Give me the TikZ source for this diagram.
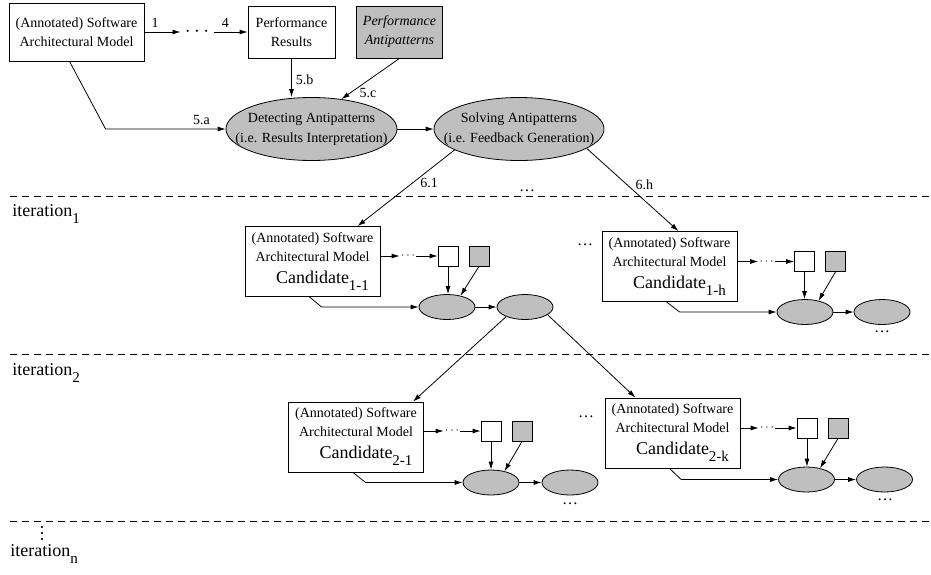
\documentclass[tikz,border=0pt]{standalone}
\usepackage{fontspec}
\setmainfont{Liberation Serif}
\usepackage{tikz}
\usetikzlibrary{shapes,arrows,arrows.meta,positioning}

\begin{document}
\begin{tikzpicture}[x=1pt, y=-1pt, >={Latex[length=8pt,width=5pt]}, line width=0.8pt,
  font=\fontsize{14}{19}\selectfont]
\tikzset{block/.style = {draw, rectangle, inner sep=0pt, align=center},
  candidate/.style = {block, minimum width=135pt, minimum height=70pt},
  process/.style = {draw, ellipse, fill=gray!50, inner xsep=-30pt, inner ysep=0pt,
    align=center, minimum width=171pt, minimum height=63pt,
    font=\fontsize{14}{20}\selectfont},
  stepell/.style = {draw, ellipse, fill=gray!50, minimum width=56pt,
    minimum height=25pt, inner sep=0pt},
  resbox/.style = {draw, rectangle, minimum size=20pt, inner sep=0pt},
  rowdots/.style = {inner sep=1pt, font=\fontsize{12}{12}\selectfont},
  moredots/.style = {inner sep=0pt, anchor=base, font=\fontsize{16}{16}\selectfont},
  lbl/.style = {inner sep=1pt},
  sepline/.style = {dash pattern=on 7pt off 5pt},
  iter/.style = {anchor=base west, inner sep=0pt, font=\fontsize{18}{18}\selectfont}}

  \useasboundingbox (0,0) rectangle (931,574);

  % first run
  \node[block, minimum width=135pt, minimum height=58pt] (model) at (76.5,32)
    {(Annotated) Software\\Architectural Model};
  \node[inner xsep=4pt, inner ysep=0pt, font=\fontsize{20.74}{22}\selectfont]
    (steps) at (197,32) {$\cdots$};
  \node[block, minimum width=87pt, minimum height=52pt] (perfresults) at (291.5,32)
    {Performance\\Results};
  \node[block, fill=gray!50, minimum width=86pt, minimum height=52pt,
    font=\fontsize{14}{19}\selectfont\itshape] (antipatterns) at (399.5,32)
    {Performance\\Antipatterns};

  \node[process] (detecting) at (311.5,129)
    {Detecting Antipatterns\\(i.e. Results Interpretation)};
  \node[process, minimum width=170pt] (solving) at (519,129)
    {Solving Antipatterns\\(i.e. Feedback Generation)};

  \draw[->] (model) -- node[lbl, pos=0.3, above=3pt]{1} (model -| steps.west);
  \draw[->] (steps.east |- perfresults) -- node[lbl, pos=0.35, above=3pt]{4} (perfresults);
  \draw[->] (perfresults) -- node[lbl, pos=0.55, right=3pt]{5.b}
    (perfresults.south |- detecting.north);
  \draw[->] (antipatterns.south) -- node[lbl, pos=0.85, right=8pt]{5.c} (detecting.45);
  \draw[->] ([xshift=-7pt]model.south) -- ([xshift=-120pt]detecting.west)
    -- node[lbl, pos=0.8, above=3pt]{5.a} (detecting.west);
  \draw[->] (detecting) -- (solving);

  % iterations
  \draw[sepline] (10,196) -- (931,196);
  \draw[sepline] (10,354) -- (931,354);
  \draw[sepline] (10,521) -- (931,521);
  \node[iter] (iter1) at (12,216)
    {iteration\raisebox{-7pt}{\fontsize{15}{15}\selectfont 1}};
  \node[iter] (iter2) at (12,375)
    {iteration\raisebox{-7pt}{\fontsize{15}{15}\selectfont 2}};
  \node[inner sep=0pt] (vdots) at (42,533)
    {\rotatebox{90}{\fontsize{18}{18}\selectfont\ldots}};
  \node[iter] (itern) at (10,556)
    {iteration\raisebox{-7pt}{\fontsize{15}{15}\selectfont n}};

  % candidate 1-1
  \node[candidate] (candidate11) at (312.5,261.5)
    {(Annotated) Software\\Architectural Model\\[3pt]\hspace*{20pt}{\fontsize{18}{20}\selectfont
    Candidate}\raisebox{-7pt}{\fontsize{15}{15}\selectfont 1-1}};
  \node[resbox] (results11) at (448,256) {};
  \node[rowdots, left of=results11, node distance=40pt] (steps11) {$\cdots$};
  \node[resbox, fill=gray!50, right of=results11, node distance=31pt] (anti11) {};
  \node[stepell] (detect11) at (447,307) {};
  \node[stepell, right of=detect11, node distance=78pt] (solve11) {};
  \draw[->] (candidate11.east |- steps11) -- (steps11);
  \draw[->] (steps11) -- (results11);
  \draw[->] (results11) -- (results11 |- detect11.north);
  \draw[->] (anti11.south) -- (detect11.40);
  \draw[->] ([xshift=-3pt]candidate11.south) -- ([xshift=-97pt]detect11.west) -- (detect11.west);
  \draw[->] (detect11) -- (solve11);

  % candidate 1-h
  \node[moredots] (more1h) at (585,245) {\ldots};
  \node[candidate] (candidate1h) at (669.5,266.5)
    {(Annotated) Software\\Architectural Model\\[3pt]\hspace*{20pt}{\fontsize{18}{20}\selectfont
    Candidate}\raisebox{-7pt}{\fontsize{15}{15}\selectfont 1-h}};
  \node[resbox] (results1h) at (804.5,261.5) {};
  \node[rowdots, left of=results1h, node distance=38pt] (steps1h) {$\cdots$};
  \node[resbox, fill=gray!50, right of=results1h, node distance=31pt] (anti1h) {};
  \node[stepell] (detect1h) at (805,312) {};
  \node[stepell, right of=detect1h, node distance=77pt] (solve1h) {};
  \node[moredots] (after1h) at (882,332) {\ldots};
  \draw[->] (candidate1h.east |- steps1h) -- (steps1h);
  \draw[->] (steps1h) -- (results1h);
  \draw[->] (results1h) -- (results1h |- detect1h.north);
  \draw[->] (anti1h.south) -- (detect1h.40);
  \draw[->] ([xshift=-3pt]candidate1h.south) -- ([xshift=-97pt]detect1h.west) -- (detect1h.west);
  \draw[->] (detect1h) -- (solve1h);

  \draw[->] (solving.198) -- node[lbl, pos=0.44, anchor=west, xshift=7pt]{6.1}
    ([xshift=45pt]candidate11.north);
  \node[moredots] (moresol) at (527,191) {\ldots};
  \draw[->] (solving.344) -- node[lbl, pos=0.44, anchor=west, xshift=7pt]{6.h}
    ([xshift=9pt]candidate1h.north);

  % candidate 2-1
  \node[candidate] (candidate21) at (356,437)
    {(Annotated) Software\\Architectural Model\\[3pt]\hspace*{20pt}{\fontsize{18}{20}\selectfont
    Candidate}\raisebox{-7pt}{\fontsize{15}{15}\selectfont 2-1}};
  \node[resbox] (results21) at (491,431) {};
  \node[rowdots, left of=results21, node distance=39pt] (steps21) {$\cdots$};
  \node[resbox, fill=gray!50, right of=results21, node distance=31pt] (anti21) {};
  \node[stepell] (detect21) at (491,482.5) {};
  \node[stepell, right of=detect21, node distance=79pt] (solve21) {};
  \node[moredots] (after21) at (570,504) {\ldots};
  \draw[->] (candidate21.east |- steps21) -- (steps21);
  \draw[->] (steps21) -- (results21);
  \draw[->] (results21) -- (results21 |- detect21.north);
  \draw[->] (anti21.south) -- (detect21.40);
  \draw[->] ([xshift=-3pt]candidate21.south) -- ([xshift=-97pt]detect21.west) -- (detect21.west);
  \draw[->] (detect21) -- (solve21);

  % candidate 2-k
  \node[moredots] (more2k) at (586,417) {\ldots};
  \node[candidate] (candidate2k) at (672.5,433)
    {(Annotated) Software\\Architectural Model\\[3pt]\hspace*{20pt}{\fontsize{18}{20}\selectfont
    Candidate}\raisebox{-7pt}{\fontsize{15}{15}\selectfont 2-k}};
  \node[resbox] (results2k) at (807,428) {};
  \node[rowdots, left of=results2k, node distance=40pt] (steps2k) {$\cdots$};
  \node[resbox, fill=gray!50, right of=results2k, node distance=31pt] (anti2k) {};
  \node[stepell] (detect2k) at (806.5,479.5) {};
  \node[stepell, right of=detect2k, node distance=78pt] (solve2k) {};
  \node[moredots] (after2k) at (885,500) {\ldots};
  \draw[->] (candidate2k.east |- steps2k) -- (steps2k);
  \draw[->] (steps2k) -- (results2k);
  \draw[->] (results2k) -- (results2k |- detect2k.north);
  \draw[->] (anti2k.south) -- (detect2k.40);
  \draw[->] ([xshift=-3pt]candidate2k.south) -- ([xshift=-97pt]detect2k.west) -- (detect2k.west);
  \draw[->] (detect2k) -- (solve2k);

  \draw[->] (solve11.207) -- ([xshift=57pt]candidate21.north);
  \draw[->] (solve11.341) -- ([xshift=-37pt]candidate2k.north);

\end{tikzpicture}
\end{document}
